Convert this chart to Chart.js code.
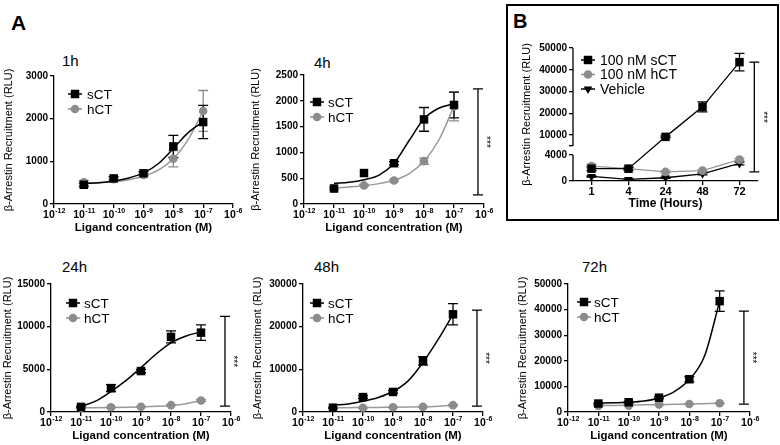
<!DOCTYPE html>
<html>
<head>
<meta charset="utf-8">
<script src="https://cdn.jsdelivr.net/npm/chart.js@4.4.1/dist/chart.umd.min.js"></script>
<style>
  body { margin: 0; background: #fff; overflow: hidden; }
  #wrap { position: relative; width: 780px; height: 445px; font-family: "Liberation Sans", Arial, sans-serif; }
  #wrap canvas { position: absolute; left: 0; top: 0; }
  .lbl { position: absolute; color: #000; white-space: nowrap; line-height: 1; }
  #boxB { position: absolute; left: 506px; top: 4px; width: 269px; height: 213px; border: 2px solid #000; }
</style>
</head>
<body>
<div id="wrap">
  <div id="boxB"></div>
  <div class="lbl" style="left:11px;top:12px;font-size:21px;font-weight:bold">A</div>
  <div class="lbl" style="left:513px;top:11px;font-size:20px;font-weight:bold">B</div>
  <div class="lbl" style="left:62px;top:53px;font-size:15px">1h</div>
  <div class="lbl" style="left:314px;top:55px;font-size:15px">4h</div>
  <div class="lbl" style="left:62px;top:259px;font-size:15px">24h</div>
  <div class="lbl" style="left:314px;top:259px;font-size:15px">48h</div>
  <div class="lbl" style="left:582px;top:259px;font-size:15px">72h</div>
  <canvas id="c1h" width="780" height="445"></canvas>
  <canvas id="c4h" width="780" height="445"></canvas>
  <canvas id="c24h" width="780" height="445"></canvas>
  <canvas id="c48h" width="780" height="445"></canvas>
  <canvas id="c72h" width="780" height="445"></canvas>
  <canvas id="cB" width="780" height="445"></canvas>
</div>
<script>
const conc = [1e-11, 1e-10, 1e-9, 1e-8, 1e-7];
const fitConc = [1e-11, 3.2e-11, 1e-10, 3.2e-10, 1e-9, 3.2e-9, 1e-8, 3.2e-8, 1e-7];
const concTicks = [1e-12, 1e-11, 1e-10, 1e-9, 1e-8, 1e-7, 1e-6];

// 1h
const sCT1h = [450, 600, 720, 1350, 1920];
const sCT1hErr = [40, 40, 40, 260, 390];
const sCT1hFit = [480, 500, 540, 610, 730, 950, 1300, 1680, 1930];
const hCT1h = [510, 580, 680, 1060, 2180];
const hCT1hErr = [40, 40, 50, 190, 480];
const hCT1hFit = [490, 500, 525, 570, 650, 800, 1060, 1520, 2180];
const yTicks1h = [0, 1000, 2000, 3000];

// 4h
const sCT4h = [300, 600, 790, 1640, 1920];
const sCT4hErr = [0, 0, 30, 230, 250];
const sCT4hFit = [400, 420, 470, 560, 790, 1230, 1650, 1860, 1940];
const hCT4h = [300, 360, 455, 830, 1890];
const hCT4hErr = [20, 20, 20, 60, 280];
const hCT4hFit = [310, 330, 355, 395, 460, 590, 830, 1250, 1900];
const yTicks4h = [0, 500, 1000, 1500, 2000, 2500];

// 24h
const sCT24h = [600, 2800, 4800, 8800, 9300];
const sCT24hErr = [80, 400, 200, 700, 900];
const sCT24hFit = [650, 1300, 2400, 3700, 5200, 6800, 8100, 8900, 9400];
const hCT24h = [500, 550, 620, 800, 1350];
const hCT24hErr = [50, 50, 50, 60, 100];
const hCT24hFit = [500, 510, 530, 560, 600, 660, 770, 980, 1350];
const yTicks24h = [0, 5000, 10000, 15000];

// 48h
const sCT48h = [1000, 3500, 4700, 12000, 22900];
const sCT48hErr = [100, 300, 300, 1000, 2500];
const sCT48hFit = [1600, 1900, 2500, 3400, 4800, 7300, 11600, 17000, 22900];
const hCT48h = [1000, 1000, 1100, 1200, 1600];
const hCT48hErr = [80, 80, 80, 100, 150];
const hCT48hFit = [1000, 1000, 1050, 1080, 1100, 1150, 1220, 1350, 1600];
const yTicks48h = [0, 10000, 20000, 30000];

// 72h
const sCT72h = [3300, 3800, 5600, 12800, 43300];
const sCT72hErr = [200, 300, 400, 1000, 4000];
const sCT72hFit = [3500, 3600, 3800, 4300, 5500, 8000, 12700, 22000, 43300];
const hCT72h = [2400, 2500, 2900, 3100, 3400];
const hCT72hErr = [100, 100, 100, 150, 150];
const hCT72hFit = [2500, 2550, 2650, 2800, 2900, 3000, 3100, 3250, 3400];
const yTicks72h = [0, 10000, 20000, 30000, 40000, 50000];

// B: time course at 100 nM
const hours = ['1', '4', '24', '48', '72'];
const sCTB = [1900, 1900, 9200, 23000, 43500];
const sCTBErr = [300, 200, 400, 2300, 4000];
const hCTB = [2300, 1900, 1400, 1600, 3300];
const hCTBErr = [300, 200, 150, 150, 200];
const vehB = [700, 250, 500, 1100, 2700];
const vehBErr = [100, 80, 80, 150, 200];
const yTicksB = [0, 4000, 5000, 10000, 20000, 30000, 40000, 50000];
const BREAK = { lowMax: 4000, highMin: 5000, lowFrac: 0.195, gapFrac: 0.068 };

// significance brackets: [top, bottom]
const sig4h = [2230, 175];
const sig24h = [11200, 700];
const sig48h = [23900, 1400];
const sig72h = [39400, 3100];
const sigB = [43500, 1400];

const FONT = '"Liberation Sans", Arial, sans-serif';
const GREY = '#8c8c8c';
const GREY_LINE = '#999999';

// y scale with an axis break between lowMax and highMin
class BrokenScale extends Chart.LinearScale {
  static id = 'broken';
  static defaults = {};
  buildTicks() { return yTicksB.map(v => ({ value: v })); }
  getPixelForValue(v) {
    const h = this.bottom - this.top;
    let f;
    if (v <= BREAK.lowMax) f = v / BREAK.lowMax * BREAK.lowFrac;
    else f = BREAK.lowFrac + BREAK.gapFrac +
      (v - BREAK.highMin) / (this.max - BREAK.highMin) * (1 - BREAK.lowFrac - BREAK.gapFrac);
    return this.bottom - f * h;
  }
}
Chart.register(BrokenScale);

function deco(cfg) {
  return {
    id: 'deco',
    beforeDatasetsDraw(chart) {
      const { ctx, scales: { x, y } } = chart;
      ctx.save();
      ctx.lineWidth = 1.3;
      cfg.err.forEach(e => {
        ctx.strokeStyle = e.color;
        e.vals.forEach((v, i) => {
          if (!e.err[i]) return;
          const px = x.getPixelForValue(e.xs[i]);
          const t = y.getPixelForValue(v + e.err[i]);
          const b = y.getPixelForValue(v - e.err[i]);
          ctx.beginPath();
          ctx.moveTo(px, t); ctx.lineTo(px, b);
          ctx.moveTo(px - 5, t); ctx.lineTo(px + 5, t);
          ctx.moveTo(px - 5, b); ctx.lineTo(px + 5, b);
          ctx.stroke();
        });
      });
      ctx.restore();
    },
    afterDraw(chart) {
      const { ctx, scales: { x, y }, chartArea } = chart;
      ctx.save();
      // power-of-ten tick labels with a raised exponent
      if (cfg.powTicks) {
        ctx.fillStyle = '#000';
        ctx.textBaseline = 'alphabetic'; ctx.textAlign = 'left';
        x.ticks.forEach(t => {
          const px = x.getPixelForValue(t.value);
          const ex = String(Math.round(Math.log10(t.value)));
          ctx.font = 'bold 10.5px ' + FONT;
          const w1 = ctx.measureText('10').width;
          ctx.font = 'bold 7px ' + FONT;
          const w2 = ctx.measureText(ex).width;
          const x0 = px - (w1 + w2) / 2;
          const base = chartArea.bottom + 14;
          ctx.font = 'bold 10.5px ' + FONT;
          ctx.fillText('10', x0, base);
          ctx.font = 'bold 7px ' + FONT;
          ctx.fillText(ex, x0 + w1 + 0.5, base - 5);
        });
      }
      // broken y axis line
      if (cfg.broken) {
        ctx.strokeStyle = '#000'; ctx.lineWidth = 1.3;
        ctx.beginPath();
        ctx.moveTo(chartArea.left, y.getPixelForValue(0));
        ctx.lineTo(chartArea.left, y.getPixelForValue(BREAK.lowMax));
        ctx.moveTo(chartArea.left, y.getPixelForValue(BREAK.highMin));
        ctx.lineTo(chartArea.left, y.getPixelForValue(y.max));
        ctx.stroke();
      }
      // significance bracket
      if (cfg.sig) {
        const px = x.getPixelForValue(cfg.sig.x);
        const t = y.getPixelForValue(cfg.sig.v[0]);
        const b = y.getPixelForValue(cfg.sig.v[1]);
        ctx.strokeStyle = '#000'; ctx.lineWidth = 1.3;
        ctx.beginPath();
        ctx.moveTo(px, t); ctx.lineTo(px, b);
        ctx.moveTo(px - 5, t); ctx.lineTo(px + 5, t);
        ctx.moveTo(px - 5, b); ctx.lineTo(px + 5, b);
        ctx.stroke();
        ctx.translate(px + 8, (t + b) / 2);
        ctx.rotate(Math.PI / 2);
        ctx.fillStyle = '#000';
        ctx.font = '10px ' + FONT;
        ctx.textAlign = 'center'; ctx.textBaseline = 'middle';
        ctx.fillText('***', 0, 0);
        ctx.setTransform(1, 0, 0, 1, 0, 0);
      }
      // legend
      const L = cfg.legend;
      ctx.font = L.size + 'px ' + FONT;
      ctx.textBaseline = 'middle'; ctx.textAlign = 'left';
      L.items.forEach((it, i) => {
        const ly = L.y + i * L.dy;
        ctx.strokeStyle = it.color; ctx.fillStyle = it.color; ctx.lineWidth = 1.5;
        ctx.beginPath(); ctx.moveTo(L.x0, ly); ctx.lineTo(L.x1, ly); ctx.stroke();
        Chart.helpers.drawPoint(ctx, { pointStyle: it.style, radius: it.r, rotation: it.rot || 0, borderWidth: 0 },
          (L.x0 + L.x1) / 2, ly);
        ctx.fillStyle = '#000';
        ctx.fillText(it.text, L.tx, ly + 1);
      });
      ctx.restore();
    }
  };
}

function axisCommon(area, yTitleX, xH) {
  const yW = area.l - (yTitleX - 6.6);
  return {
    yW: yW,
    padding: { left: area.l - yW, top: area.t, right: 780 - area.r, bottom: 445 - area.b - xH }
  };
}

function makeA(id, area, yTitleX, yTicks, s, sErr, sFit, h, hErr, hFit, sig, leg) {
  const xH = 31;
  const ax = axisCommon(area, yTitleX, xH);
  const pts = arr => arr.map((v, i) => ({ x: conc[i], y: v }));
  const fit = arr => arr.map((v, i) => ({ x: fitConc[i], y: v }));
  new Chart(document.getElementById(id), {
    type: 'line',
    data: {
      datasets: [
        { data: pts(s), showLine: false, pointStyle: 'rect', pointRadius: 6, pointBorderWidth: 0,
          pointBackgroundColor: '#000' },
        { data: pts(h), showLine: false, pointStyle: 'circle', pointRadius: 4.3, pointBorderWidth: 0,
          pointBackgroundColor: GREY },
        { data: fit(sFit), borderColor: '#000', borderWidth: 1.5, pointRadius: 0, cubicInterpolationMode: 'monotone' },
        { data: fit(hFit), borderColor: GREY_LINE, borderWidth: 1.5, pointRadius: 0, cubicInterpolationMode: 'monotone' }
      ]
    },
    options: {
      responsive: false, animation: false, events: [],
      layout: { padding: ax.padding },
      plugins: { legend: { display: false }, tooltip: { enabled: false } },
      scales: {
        x: {
          type: 'logarithmic', min: 1e-12, max: 1e-6,
          afterBuildTicks: sc => { sc.ticks = concTicks.map(v => ({ value: v })); },
          afterFit: sc => { sc.height = xH; },
          grid: { drawOnChartArea: false, tickLength: 4, color: '#000', lineWidth: 1.3 },
          border: { color: '#000', width: 1.3 },
          ticks: { display: false, autoSkip: false },
          title: { display: true, text: 'Ligand concentration (M)', color: '#000', padding: 0,
            font: { family: FONT, size: 11.5, weight: 'bold' } }
        },
        y: {
          min: 0, max: yTicks[yTicks.length - 1],
          afterBuildTicks: sc => { sc.ticks = yTicks.map(v => ({ value: v })); },
          afterFit: sc => { sc.width = ax.yW; },
          grid: { drawOnChartArea: false, tickLength: 4, color: '#000', lineWidth: 1.3 },
          border: { color: '#000', width: 1.3 },
          ticks: { color: '#000', font: { family: FONT, size: 10, weight: 'bold' }, padding: 2, autoSkip: false,
            callback: v => String(v) },
          title: { display: true, text: '\u03B2-Arrestin Recruitment (RLU)', color: '#000', padding: 0,
            font: { family: FONT, size: 11 } }
        }
      }
    },
    plugins: [deco({
      powTicks: true,
      err: [
        { xs: conc, vals: h, err: hErr, color: GREY },
        { xs: conc, vals: s, err: sErr, color: '#000' }
      ],
      sig: sig ? { x: 6.3e-7, v: sig } : null,
      legend: {
        x0: leg.x0, x1: leg.x1, tx: leg.tx, y: leg.y, dy: 15, size: 13.5,
        items: [
          { text: 'sCT', color: '#000', style: 'rect', r: 6 },
          { text: 'hCT', color: GREY, style: 'circle', r: 4.3 }
        ]
      }
    })]
  });
}

makeA('c1h', { l: 54, r: 233, t: 76, b: 204 }, 9, yTicks1h,
  sCT1h, sCT1hErr, sCT1hFit, hCT1h, hCT1hErr, hCT1hFit, null, { x0: 68, x1: 82, tx: 87, y: 94 });
makeA('c4h', { l: 304, r: 484, t: 75, b: 204 }, 256, yTicks4h,
  sCT4h, sCT4hErr, sCT4hFit, hCT4h, hCT4hErr, hCT4hFit, sig4h, { x0: 310, x1: 324, tx: 328, y: 102 });
makeA('c24h', { l: 51, r: 231, t: 284, b: 412 }, 8, yTicks24h,
  sCT24h, sCT24hErr, sCT24hFit, hCT24h, hCT24hErr, hCT24hFit, sig24h, { x0: 66, x1: 80, tx: 84, y: 303 });
makeA('c48h', { l: 303, r: 483, t: 284, b: 412 }, 258, yTicks48h,
  sCT48h, sCT48hErr, sCT48hFit, hCT48h, hCT48hErr, hCT48hFit, sig48h, { x0: 310, x1: 324, tx: 328, y: 303 });
makeA('c72h', { l: 568, r: 750, t: 284, b: 412 }, 523, yTicks72h,
  sCT72h, sCT72hErr, sCT72hFit, hCT72h, hCT72hErr, hCT72hFit, sig72h, { x0: 577, x1: 591, tx: 594, y: 302 });

// panel B
(function () {
  const area = { l: 573, r: 758, t: 48, b: 181 };
  const xH = 30;
  const ax = axisCommon(area, 527, xH);
  const idx = hours.map((_, i) => i);
  new Chart(document.getElementById('cB'), {
    type: 'line',
    data: {
      labels: hours,
      datasets: [
        { data: sCTB, borderColor: '#000', borderWidth: 1.3, pointStyle: 'rect', pointRadius: 6,
          pointBorderWidth: 0, pointBackgroundColor: '#000' },
        { data: hCTB, borderColor: GREY_LINE, borderWidth: 1.3, pointStyle: 'circle', pointRadius: 4.3,
          pointBorderWidth: 0, pointBackgroundColor: GREY },
        { data: vehB, borderColor: '#000', borderWidth: 1.3, pointStyle: 'triangle', pointRotation: 180,
          pointRadius: 5, pointBorderWidth: 0, pointBackgroundColor: '#000' }
      ]
    },
    options: {
      responsive: false, animation: false, events: [],
      layout: { padding: ax.padding },
      plugins: { legend: { display: false }, tooltip: { enabled: false } },
      scales: {
        x: {
          offset: true,
          afterFit: sc => { sc.height = xH; },
          grid: { drawOnChartArea: false, tickLength: 4, color: '#000', lineWidth: 1.3, offset: false },
          border: { color: '#000', width: 1.3 },
          ticks: { color: '#000', font: { family: FONT, size: 11, weight: 'bold' }, padding: 0, maxRotation: 0 },
          title: { display: true, text: 'Time (Hours)', color: '#000', padding: 0,
            font: { family: FONT, size: 12, weight: 'bold' } }
        },
        y: {
          type: 'broken', min: 0, max: 50000,
          afterFit: sc => { sc.width = ax.yW; },
          grid: { drawOnChartArea: false, tickLength: 4, color: '#000', lineWidth: 1.3 },
          border: { display: false },
          ticks: { color: '#000', font: { family: FONT, size: 10, weight: 'bold' }, padding: 2, autoSkip: false,
            callback: v => (v === BREAK.highMin ? '' : String(v)) },
          title: { display: true, text: '\u03B2-Arrestin Recruitment (RLU)', color: '#000', padding: 0,
            font: { family: FONT, size: 11 } }
        }
      }
    },
    plugins: [deco({
      broken: true,
      err: [
        { xs: idx, vals: vehB, err: vehBErr, color: '#000' },
        { xs: idx, vals: hCTB, err: hCTBErr, color: GREY },
        { xs: idx, vals: sCTB, err: sCTBErr, color: '#000' }
      ],
      sig: { x: 4.4, v: sigB },
      legend: {
        x0: 581, x1: 595, tx: 600, y: 60, dy: 14.5, size: 14,
        items: [
          { text: '100 nM sCT', color: '#000', style: 'rect', r: 6 },
          { text: '100 nM hCT', color: GREY, style: 'circle', r: 4.3 },
          { text: 'Vehicle', color: '#000', style: 'triangle', r: 5, rot: 180 }
        ]
      }
    })]
  });
})();
</script>
</body>
</html>
